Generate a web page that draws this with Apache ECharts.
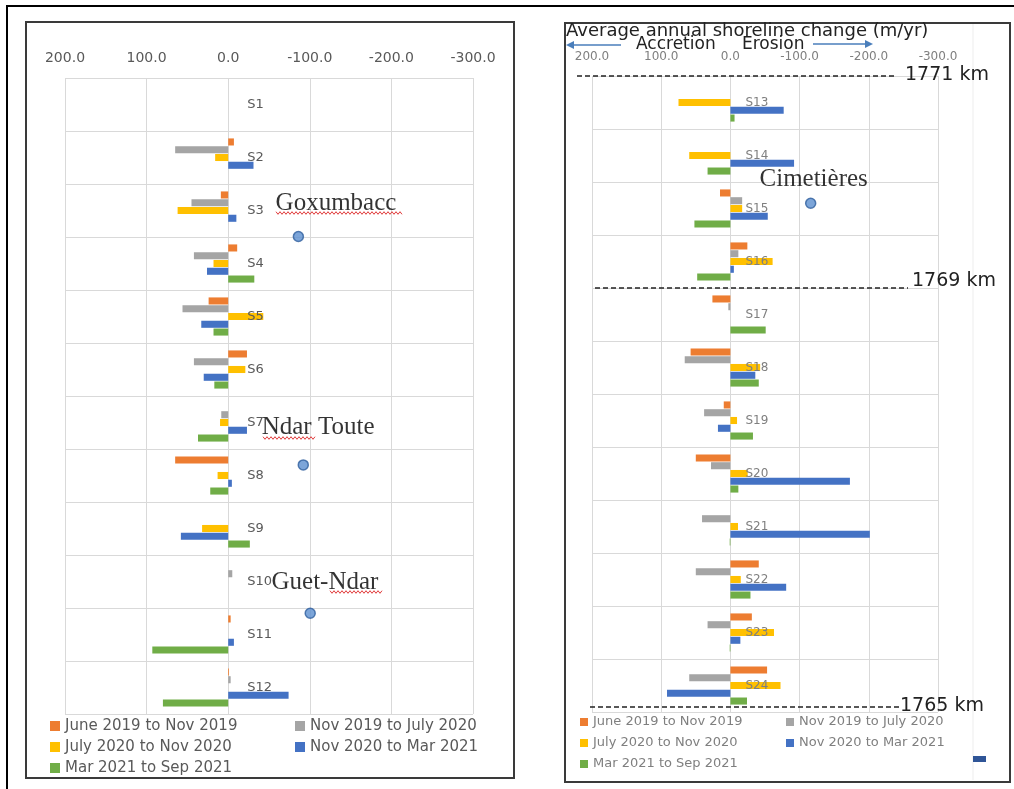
<!DOCTYPE html>
<html>
<head>
<meta charset="utf-8">
<script src="https://cdn.jsdelivr.net/npm/echarts@6/dist/echarts.min.js"></script>
<style>
  html, body { margin: 0; padding: 0; background: #fff; }
  #chart { width: 1014px; height: 789px; }
</style>
</head>
<body>
<div id="chart"></div>
<script>
// shoreline change (m/yr), positive = accretion (drawn to the left)
const periods = ['June 2019 to Nov 2019', 'Nov 2019 to July 2020', 'July 2020 to Nov 2020', 'Nov 2020 to Mar 2021', 'Mar 2021 to Sep 2021'];
const colors = ['#ED7D31', '#A5A5A5', '#FFC000', '#4472C4', '#70AD47'];

const leftSites = ['S1', 'S2', 'S3', 'S4', 'S5', 'S6', 'S7', 'S8', 'S9', 'S10', 'S11', 'S12'];
const leftJun19 = [0, -7, 9, -11, 24, -23, 0, 65, 0, 0, -3, -1];
const leftNov19 = [0, 65, 45, 42, 56, 42, 8.5, 0, 0, -5, 0, -3];
const leftJul20 = [0, 16, 62, 18, -43, -21, 10, 13, 32, 0, 0, 0];
const leftNov20 = [0, -31, -10, 26, 33, 30, -23, -4.5, 58, 0, -7, -74];
const leftMar21 = [0, 0, 0, -32, 18, 17, 37, 22, -26.5, 0, 93, 80];

const rightSites = ['S13', 'S14', 'S15', 'S16', 'S17', 'S18', 'S19', 'S20', 'S21', 'S22', 'S23', 'S24'];
const rightJun19 = [0, 0, 15, -24.5, 26, 57.5, 9.6, 50, 0, -41, -31, -53];
const rightNov19 = [0, 0, -17, -11.5, 3, 66, 38, 28, 41, 50, 33, 59.5];
const rightJul20 = [75, 59.5, -17, -61, 0, -43, -9.6, -25, -11, -15, -63, -72.4];
const rightNov20 = [-77, -92, -54, -5, 0, -36, 18, -172.7, -201.5, -80.6, -14.4, 91.6];
const rightMar21 = [-6, 33, 52, 48, -51, -41, -32.6, -11.5, 1, -29, 1, -24];

const axisMin = -300;
const axisMax = 200;
const axisStep = 100;

// place names: [name, value, row position]
const leftPlaces = [['Goxumbacc', -58, 2.36], ['Ndar Toute', -41, 6.6], ['Guet-Ndar', -53, 9.51]];
const leftDots = [[-86, 2.99], [-92, 7.3], [-100.5, 10.1]];
const rightPlaces = [['Cimetières', -42, 1.96]];
const rightDots = [[-116, 2.4]];

const sans = 'DejaVu Sans';
const leftGrid = { left: 65, top: 78, width: 408, height: 636 };
const rightGrid = { left: 592, top: 76, width: 346, height: 636 };

const chart = echarts.init(document.getElementById('chart'));

const xAxisFor = (gridIndex, fontSize, color) => ({
    gridIndex,
    type: 'value',
    min: axisMin,
    max: axisMax,
    interval: axisStep,
    inverse: true,
    position: 'top',
    axisLine: { show: false, onZero: false },
    axisTick: { show: false },
    splitLine: { lineStyle: { color: '#d9d9d9' } },
    axisLabel: {
        margin: 13,
        color,
        fontSize,
        fontFamily: sans,
        formatter: (v) => v.toFixed(1),
    },
});

// site names sit just right of the zero line
const siteAxisFor = (gridIndex, grid, data, fontSize, color, margin) => ({
    gridIndex,
    type: 'category',
    data,
    inverse: true,
    z: 5,
    offset: -grid.width * axisMax / (axisMax - axisMin),
    axisLine: { show: false, onZero: false },
    axisTick: { show: false },
    splitLine: { show: true, lineStyle: { color: '#d9d9d9' } },
    axisLabel: { inside: true, margin, color, fontSize, fontFamily: sans },
});

const rowAxisFor = (gridIndex) => ({
    gridIndex,
    type: 'value',
    min: 0,
    max: 12,
    inverse: true,
    show: false,
    axisLine: { onZero: false },
});

const barsFor = (axisIndex, values) => values.map((data, i) => ({
    name: periods[i],
    type: 'bar',
    xAxisIndex: axisIndex,
    yAxisIndex: axisIndex,
    barGap: '10%',
    barCategoryGap: '28%',
    itemStyle: { color: colors[i] },
    data,
}));

const placeSeries = (axisIndex, rowAxis, places, dots) => [
    {
        type: 'scatter',
        xAxisIndex: axisIndex,
        yAxisIndex: rowAxis,
        silent: true,
        symbolSize: 0.1,
        itemStyle: { color: 'transparent' },
        label: {
            show: true,
            position: 'right',
            distance: 0,
            formatter: '{b}',
            fontFamily: 'Liberation Serif',
            fontSize: 25,
            color: '#000',
        },
        z: 6,
        data: places.map((p) => ({ name: p[0], value: [p[1], p[2]] })),
    },
    {
        type: 'scatter',
        xAxisIndex: axisIndex,
        yAxisIndex: rowAxis,
        silent: true,
        symbolSize: 10,
        itemStyle: { color: '#5b8fd0', borderColor: '#2f5f9e', borderWidth: 1.5 },
        z: 6,
        data: dots,
    },
];

// red spell-check squiggle under some words
const squiggle = (x0, x1, y) => {
    const points = [];
    for (let x = x0, i = 0; x <= x1; x += 2, i++) {
        points.push([x, y + (i % 2 ? 1.3 : -1.3)]);
    }
    return { type: 'polyline', shape: { points }, style: { stroke: '#e03a3a', lineWidth: 1, fill: null }, z: 20 };
};

const dashed = (x1, x2, y) => ({
    type: 'line',
    shape: { x1, y1: y, x2, y2: y },
    style: { stroke: '#222', lineWidth: 1.5, lineDash: [5, 3] },
    z: 20,
});

const kmLabel = (text, x, y) => ({
    type: 'text',
    x, y,
    style: { text, fontFamily: sans, fontSize: 19, fill: '#222', textVerticalAlign: 'middle' },
    z: 20,
});

const arrow = (xTail, xHead, y) => {
    const dir = xHead > xTail ? 1 : -1;
    return [
        { type: 'line', shape: { x1: xTail, y1: y, x2: xHead - dir * 6, y2: y }, style: { stroke: '#4a7ebb', lineWidth: 1.5 }, z: 20 },
        { type: 'polygon', shape: { points: [[xHead, y], [xHead - dir * 8, y - 4], [xHead - dir * 8, y + 4]] }, style: { fill: '#4a7ebb' }, z: 20 },
    ];
};

chart.setOption({
    animation: false,
    grid: [leftGrid, rightGrid],
    xAxis: [
        xAxisFor(0, 14, '#595959'),
        xAxisFor(1, 12, '#7f7f7f'),
    ],
    yAxis: [
        siteAxisFor(0, leftGrid, leftSites, 13, '#595959', 19),
        siteAxisFor(1, rightGrid, rightSites, 12, '#7f7f7f', 15),
        rowAxisFor(0),
        rowAxisFor(1),
    ],
    legend: [
        {
            data: periods,
            left: 50,
            top: 718,
            width: 500,
            orient: 'horizontal',
            icon: 'rect',
            itemWidth: 10,
            itemHeight: 10,
            itemGap: 5,
            padding: 0,
            textStyle: { width: 225, fontSize: 15, lineHeight: 16, color: '#595959', fontFamily: sans },
        },
        {
            data: periods,
            left: 580,
            top: 714,
            width: 420,
            orient: 'horizontal',
            icon: 'rect',
            itemWidth: 8,
            itemHeight: 8,
            itemGap: 5,
            padding: 0,
            textStyle: { width: 188, fontSize: 13, lineHeight: 16, color: '#7f7f7f', fontFamily: sans },
        },
    ],
    series: [
        ...barsFor(0, [leftJun19, leftNov19, leftJul20, leftNov20, leftMar21]),
        ...barsFor(1, [rightJun19, rightNov19, rightJul20, rightNov20, rightMar21]),
        ...placeSeries(0, 2, leftPlaces, leftDots),
        ...placeSeries(1, 3, rightPlaces, rightDots),
    ],
    graphic: [
        // frames
        { type: 'rect', shape: { x: 7, y: 6, width: 1012, height: 792 }, style: { fill: null, stroke: '#000', lineWidth: 2 }, silent: true },
        { type: 'rect', shape: { x: 26, y: 22, width: 488, height: 756 }, style: { fill: null, stroke: '#3a3a3a', lineWidth: 2 }, silent: true },
        { type: 'rect', shape: { x: 565, y: 23, width: 445, height: 759 }, style: { fill: null, stroke: '#3a3a3a', lineWidth: 2 }, silent: true },
        { type: 'line', shape: { x1: 973, y1: 24, x2: 973, y2: 780 }, style: { stroke: '#ededed', lineWidth: 1 }, silent: true },
        { type: 'rect', shape: { x: 973, y: 756, width: 13, height: 6 }, style: { fill: '#2f5597' }, silent: true },
        // right panel heading
        {
            type: 'text', x: 566, y: 31,
            style: { text: 'Average annual shoreline change (m/yr)', fontFamily: sans, fontSize: 18, fill: '#222', textVerticalAlign: 'middle' },
            z: 20,
        },
        {
            type: 'text', x: 636, y: 45,
            style: { text: 'Accretion', fontFamily: sans, fontSize: 17, fill: '#222', textVerticalAlign: 'middle' },
            z: 20,
        },
        {
            type: 'text', x: 742, y: 45,
            style: { text: 'Erosion', fontFamily: sans, fontSize: 17, fill: '#222', textVerticalAlign: 'middle' },
            z: 20,
        },
        ...arrow(621, 566, 45),
        ...arrow(813, 873, 44),
        // coastal kilometre marks
        dashed(577, 895, 76),
        kmLabel('1771 km', 905, 75),
        dashed(595, 908, 288),
        kmLabel('1769 km', 912, 281),
        dashed(590, 900, 707),
        kmLabel('1765 km', 900, 706),
        squiggle(276, 402, 213),
        squiggle(263, 316, 438),
        squiggle(330, 383, 592),
    ],
});

window.onresize = function () {
    chart.resize();
};
</script>
</body>
</html>
